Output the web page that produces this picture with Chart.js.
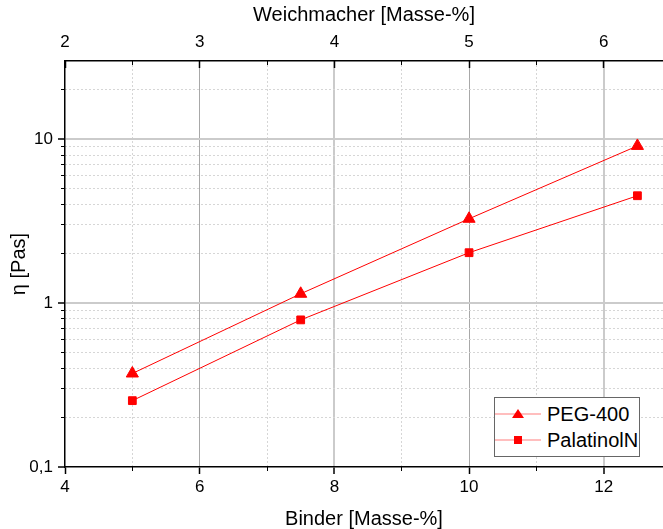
<!DOCTYPE html>
<html>
<head>
<meta charset="utf-8">
<script src="https://cdn.jsdelivr.net/npm/chart.js@4"></script>
<style>
    body { margin: 0; background: #fff; }
    #wrap { position: relative; width: 663px; height: 529px; }
    #legend {
        position: absolute; left: 494px; top: 397px; width: 144px; height: 58px;
        border: 1px solid #666; background: #fff;
        font-family: "Liberation Sans", Arial, sans-serif; font-size: 20px; color: #000;
    }
    #legend .row { position: absolute; left: 0; height: 24px; display: flex; align-items: center; }
    #legend svg { display: block; }
    #legend span { margin-left: 6px; }
</style>
</head>
<body>
<div id="wrap">
    <canvas id="chart" width="663" height="529"></canvas>
    <div id="legend"></div>
</div>
<script>
// Binder content (bottom axis) and the matching plasticiser content (top axis)
const binder = [5, 7.5, 10, 12.5];
const peg400 = [0.372, 1.14, 3.27, 9.1];
const palatinolN = [0.254, 0.79, 2.03, 4.52];
const seriesNames = ['PEG-400', 'PalatinolN'];

const xMajorTicks = [4, 6, 8, 10, 12];
const xMinorTicks = [5, 7, 9, 11];
const topMajorTicks = [2, 3, 4, 5, 6];
const topMinorTicks = [2.5, 3.5, 4.5, 5.5];
const yMajorTicks = [0.1, 1, 10];
const yMinorTicks = [0.2, 0.3, 0.4, 0.5, 0.6, 0.7, 0.8, 0.9, 2, 3, 4, 5, 6, 7, 8, 9, 20];

const FONT = '"Liberation Sans", Arial, sans-serif';
const tickFont = { family: FONT, size: 17 };
const titleFont = { family: FONT, size: 20, lineHeight: 1 };

function fixTicks(values) {
    return scale => { scale.ticks = values.map(v => ({ value: v })); };
}
// fixed axis thickness, and no extra edge padding so the plot runs to the right border
function fixSize(prop, size) {
    return scale => {
        scale[prop] = size;
        scale.paddingLeft = 0;
        scale.paddingRight = 0;
        scale.paddingTop = 0;
        scale.paddingBottom = 0;
    };
}
const minorGrid = {
    color: '#d6d6d6',
    lineWidth: 1,
    tickColor: '#000',
    tickWidth: 1
};

const ctx = document.getElementById('chart');
new Chart(ctx, {
    type: 'line',
    data: {
        datasets: [{
            label: seriesNames[0],
            data: binder.map((x, i) => ({ x: x, y: peg400[i] })),
            borderColor: '#ff0000',
            backgroundColor: '#ff0000',
            borderWidth: 1,
            pointStyle: 'triangle',
            pointRadius: 7,
            xAxisID: 'x',
            yAxisID: 'y'
        }, {
            label: seriesNames[1],
            data: binder.map((x, i) => ({ x: x, y: palatinolN[i] })),
            borderColor: '#ff0000',
            backgroundColor: '#ff0000',
            borderWidth: 1,
            pointStyle: 'rect',
            pointRadius: 5.5,
            xAxisID: 'x',
            yAxisID: 'y'
        }]
    },
    options: {
        responsive: false,
        animation: false,
        layout: { padding: 0, autoPadding: false },
        plugins: {
            legend: { display: false },
            tooltip: { enabled: false }
        },
        scales: {
            x: {
                type: 'linear', position: 'bottom', weight: 1,
                min: 4, max: 12.88,
                afterBuildTicks: fixTicks(xMajorTicks),
                afterFit: fixSize('height', 62),
                grid: {
                    color: c => c.tick.value === 4 ? 'rgba(0,0,0,0)' :
                        (c.tick.value === 8 || c.tick.value === 12 ? '#cbcbcb' : '#a8a8a8'),
                    lineWidth: c => (c.tick.value === 8 || c.tick.value === 12) ? 2 : 1,
                    tickColor: '#000', tickLength: 7, tickWidth: 1.5
                },
                border: { color: '#000', width: 1.5 },
                ticks: { font: tickFont, color: '#000', padding: 3, maxRotation: 0 },
                title: { display: true, text: 'Binder [Masse-%]', font: titleFont, color: '#000', padding: 0 }
            },
            xMinor: {
                type: 'linear', position: 'bottom', weight: 0,
                min: 4, max: 12.88,
                afterBuildTicks: fixTicks(xMinorTicks),
                afterFit: fixSize('height', 0),
                grid: Object.assign({ tickLength: 4 }, minorGrid),
                border: { display: false, dash: [2, 2] },
                ticks: { display: false }
            },
            x2: {
                type: 'linear', position: 'top', weight: 1,
                min: 2, max: 6.44,
                afterBuildTicks: fixTicks(topMajorTicks),
                afterFit: fixSize('height', 61),
                grid: { drawOnChartArea: false, tickColor: '#000', tickLength: -7, tickWidth: 1.5 },
                border: { color: '#000', width: 1.5 },
                ticks: { font: tickFont, color: '#000', padding: 15, maxRotation: 0 },
                title: { display: true, text: 'Weichmacher [Masse-%]', font: titleFont, color: '#000', padding: { top: 5, bottom: 0 } }
            },
            x2Minor: {
                type: 'linear', position: 'top', weight: 0,
                min: 2, max: 6.44,
                afterBuildTicks: fixTicks(topMinorTicks),
                afterFit: fixSize('height', 0),
                grid: { drawOnChartArea: false, tickColor: '#000', tickLength: -4, tickWidth: 1 },
                border: { display: false },
                ticks: { display: false }
            },
            y: {
                type: 'logarithmic', position: 'left', weight: 1,
                min: 0.1, max: 30,
                afterBuildTicks: fixTicks(yMajorTicks),
                afterFit: fixSize('width', 65),
                grid: {
                    color: c => c.tick.value === 0.1 ? 'rgba(0,0,0,0)' : '#cbcbcb',
                    lineWidth: 2,
                    tickColor: '#000', tickLength: 7, tickWidth: 1.5
                },
                border: { color: '#000', width: 1.5 },
                ticks: {
                    font: tickFont, color: '#000', padding: 5,
                    callback: v => String(v).replace('.', ',')
                },
                title: { display: true, text: 'η [Pas]', font: titleFont, color: '#000', padding: { top: 9, bottom: 0 } }
            },
            yMinor: {
                type: 'logarithmic', position: 'left', weight: 0,
                min: 0.1, max: 30,
                afterBuildTicks: fixTicks(yMinorTicks),
                afterFit: fixSize('width', 0),
                grid: Object.assign({ tickLength: 4 }, minorGrid),
                border: { display: false, dash: [2, 2] },
                ticks: { display: false }
            }
        }
    }
});

// legend box drawn as html, in the lower right corner of the plot
const legendMarks = [
    '<polygon points="23,5 29,14 17,14" fill="#ff0000"/>',
    '<rect x="19" y="6" width="8" height="8" fill="#ff0000"/>'
];
const legend = document.getElementById('legend');
seriesNames.forEach((name, i) => {
    const row = document.createElement('div');
    row.className = 'row';
    row.style.top = (4 + i * 26) + 'px';
    row.innerHTML = '<svg width="46" height="20"><line x1="0" y1="10" x2="46" y2="10" stroke="#ff7f7f" stroke-width="1.2"/>' +
        legendMarks[i] + '</svg><span>' + name + '</span>';
    legend.appendChild(row);
});
</script>
</body>
</html>
